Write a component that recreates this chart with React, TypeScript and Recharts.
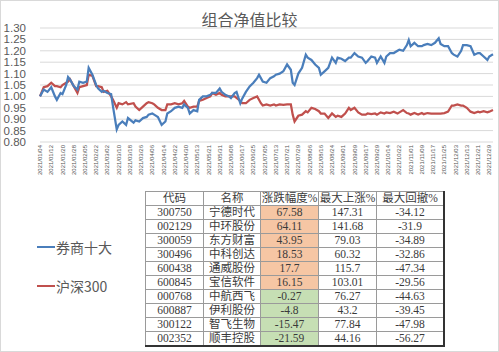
import React from "react";
import { LineChart, Line, XAxis, YAxis, CartesianGrid } from "recharts";

// trading-day index (0 = 2021/01/04), every ~2 days
const days = [
  0, 2, 4, 6, 8, 9, 11, 12, 14, 15,
  16, 18, 20, 21, 23, 25, 26, 28, 30, 31,
  33, 34, 36, 38, 39, 41, 42, 44, 46, 47,
  50, 51, 53, 55, 57, 58, 60, 61, 63, 65,
  67, 68, 70, 72, 74, 76, 77, 79, 80, 82,
  84, 85, 87, 89, 91, 92, 94, 96, 97, 99,
  101, 102, 104, 105, 107, 108, 110, 112, 114, 116,
  117, 118, 119, 121, 123, 125, 126, 128, 130, 132,
  134, 135, 136, 138, 140, 142, 143, 145, 147, 149,
  150, 152, 154, 156, 158, 159, 161, 163, 165, 166,
  168, 170, 172, 174, 175, 177, 179, 180, 182, 184,
  185, 187, 189, 191, 192, 194, 196, 197, 198, 200,
  202, 204, 205, 207, 209, 211, 213, 214, 216, 218,
  220, 221, 223, 225, 226, 228, 230, 232, 234, 235,
  237, 239, 240, 242,
];

// 券商十大
const broker = [
  1.0, 1.03, 1.02, 1.04, 1.0, 0.985, 1.015, 1.01, 1.05, 1.085,
  1.075, 1.045, 1.03, 1.065, 1.06, 1.065, 1.125, 1.095, 1.05, 1.035,
  1.02, 1.025, 1.015, 1.01, 0.955, 0.855, 0.875, 0.89, 0.875, 0.905,
  0.885, 0.895, 0.89, 0.905, 0.91, 0.92, 0.925, 0.92, 0.91, 0.875,
  0.89, 0.925, 0.935, 0.95, 0.955, 0.95, 0.965, 0.95, 0.925, 0.94,
  0.935, 0.985, 1.0, 1.0, 1.007, 1.015, 1.015, 1.035, 1.02, 1.007,
  1.0, 0.993, 1.015, 1.02, 0.97, 0.99, 1.02, 1.044, 1.06, 1.08,
  1.095, 1.08, 1.065, 1.06, 1.08, 1.088, 1.095, 1.1, 1.11, 1.14,
  1.117, 1.06, 1.05, 1.1, 1.125, 1.183, 1.17, 1.16, 1.14, 1.125,
  1.095, 1.11, 1.125, 1.17, 1.147, 1.17, 1.165, 1.155, 1.17, 1.17,
  1.19, 1.175, 1.17, 1.147, 1.155, 1.175, 1.17, 1.147, 1.175, 1.147,
  1.175, 1.19, 1.19, 1.2, 1.205, 1.2, 1.225, 1.247, 1.22, 1.235,
  1.22, 1.22, 1.225, 1.23, 1.225, 1.235, 1.255, 1.23, 1.22, 1.22,
  1.19, 1.183, 1.175, 1.2, 1.225, 1.225, 1.22, 1.183, 1.19, 1.19,
  1.175, 1.16, 1.175, 1.185,
];

// 沪深300
const hs300 = [
  1.0, 1.04, 1.045, 1.06, 1.045, 1.045, 1.04, 1.05, 1.06, 1.065,
  1.075, 1.045, 1.015, 1.04, 1.045, 1.05, 1.095, 1.09, 1.045, 1.045,
  1.04, 1.02, 1.025, 1.0, 0.985, 0.95, 0.97, 0.965, 0.975, 0.965,
  0.97, 0.955, 0.94, 0.955, 0.97, 0.975, 0.97, 0.965, 0.95, 0.94,
  0.94, 0.965, 0.965, 0.97, 0.965, 0.97, 0.98, 0.955, 0.95, 0.955,
  0.955, 0.98, 0.985, 0.993, 1.0, 1.015, 1.007, 1.015, 1.007, 1.0,
  1.0, 1.0, 1.0, 0.993, 0.98, 0.97, 0.97, 0.985, 0.993, 1.0,
  0.985, 0.97, 0.96, 0.965, 0.96, 0.965, 0.96, 0.965, 0.963, 0.965,
  0.965, 0.92, 0.89, 0.915, 0.92, 0.935, 0.93, 0.95, 0.945, 0.935,
  0.925, 0.925, 0.905, 0.925, 0.91, 0.915, 0.91, 0.925, 0.95, 0.94,
  0.95, 0.93, 0.92, 0.92, 0.925, 0.922, 0.925, 0.92, 0.93, 0.925,
  0.93, 0.927, 0.933, 0.925, 0.93, 0.94, 0.927, 0.925, 0.92, 0.927,
  0.92, 0.927, 0.922, 0.927, 0.925, 0.925, 0.925, 0.925, 0.927, 0.933,
  0.96, 0.96, 0.965, 0.96, 0.96, 0.95, 0.933, 0.927, 0.933, 0.93,
  0.935, 0.93, 0.933, 0.94,
];

// x tick labels, one every 6 trading days
const dateLabels = [
  "2021/01/04", "2021/01/12", "2021/01/20", "2021/01/28", "2021/02/05",
  "2021/02/22", "2021/03/02", "2021/03/10", "2021/03/18", "2021/03/26",
  "2021/04/06", "2021/04/14", "2021/04/22", "2021/04/30", "2021/05/13",
  "2021/05/21", "2021/05/31", "2021/06/08", "2021/06/17", "2021/06/25",
  "2021/07/05", "2021/07/13", "2021/07/21", "2021/07/29", "2021/08/06",
  "2021/08/16", "2021/08/24", "2021/09/01", "2021/09/09", "2021/09/17",
  "2021/09/29", "2021/10/14", "2021/10/22", "2021/11/01", "2021/11/09",
  "2021/11/17", "2021/11/25", "2021/12/03", "2021/12/13", "2021/12/21",
  "2021/12/29",
];
const yTicks = [0.8, 0.85, 0.9, 0.95, 1.0, 1.05, 1.1, 1.15, 1.2, 1.25, 1.3];

// table
const headers = ["代码", "名称", "涨跌幅度%", "最大上涨%", "最大回撤%"];
const codes = ["300750", "002129", "300059", "300496", "600438", "600845", "000768", "600887", "300122", "002352"];
const names = ["宁德时代", "中环股份", "东方财富", "中科创达", "通威股份", "宝信软件", "中航西飞", "伊利股份", "智飞生物", "顺丰控股"];
const change = [67.58, 64.11, 43.95, 18.53, 17.7, 16.15, -0.27, -4.8, -15.47, -21.59];
const maxUp = [147.31, 141.68, 79.03, 60.32, 115.7, 103.01, 76.27, 43.2, 77.84, 44.16];
const maxDown = [-34.12, -31.9, -34.89, -32.86, -47.34, -29.56, -44.63, -39.45, -47.98, -56.27];

const BLUE = "#4a7ebb";
const RED = "#c0504d";
const GREY = "#595959";

const data = days.map((d, i) => ({ day: d, broker: broker[i], hs300: hs300[i] }));
const xTicks = dateLabels.map((_, i) => i * 6);

function DateTick(props: any) {
  const { x, y, payload } = props;
  return (
    <text
      x={x}
      y={y}
      transform={`rotate(-90 ${x} ${y})`}
      textAnchor="end"
      dy="0.35em"
      fontSize={6}
      fill="#555"
      fontFamily="Liberation Sans, Arial, sans-serif"
    >
      {dateLabels[payload.value / 6]}
    </text>
  );
}

const cellFont = '"Liberation Serif", "Noto Sans CJK SC", serif';
const colWidths = [57, 56, 57, 57, 66];

export default function App() {
  const cell = (w: number, bg?: string): React.CSSProperties => ({
    width: w,
    height: 13,
    padding: 0,
    border: "1px solid #9a9a9a",
    textAlign: "center",
    background: bg || "#fff",
    lineHeight: "13px",
  });

  return (
    <div
      style={{
        position: "absolute",
        left: 0,
        top: 0,
        width: 497,
        height: 350,
        border: "1px solid #d9d9d9",
        background: "#fff",
        overflow: "hidden",
      }}
    >
      <div
        style={{
          position: "absolute",
          left: 0,
          width: 497,
          top: 6,
          textAlign: "center",
          fontSize: 16,
          color: GREY,
          fontFamily: '"Noto Sans CJK SC", sans-serif',
        }}
      >
        组合净值比较
      </div>

      <div style={{ position: "absolute", left: -1, top: -1 }}>
        <LineChart width={499} height={175} data={data} margin={{ top: 28, right: 6, left: 0, bottom: 0 }}>
          <CartesianGrid vertical={false} stroke="#d9d9d9" strokeWidth={1} />
          <XAxis
            dataKey="day"
            type="number"
            domain={[0, 242]}
            ticks={xTicks}
            interval={0}
            axisLine={false}
            tickLine={false}
            tickSize={0}
            tickMargin={3}
            height={33}
            tick={<DateTick />}
          />
          <YAxis
            domain={[0.8, 1.3]}
            ticks={yTicks}
            interval={0}
            width={40}
            axisLine={false}
            tickLine={false}
            tickSize={0}
            tickMargin={14}
            tickFormatter={(v: number) => v.toFixed(2)}
            tick={{ fill: GREY, fontSize: 11.5, fontFamily: "Liberation Sans, Arial, sans-serif" }}
          />
          <Line type="linear" dataKey="hs300" stroke={RED} strokeWidth={2.25} dot={false} isAnimationActive={false} />
          <Line type="linear" dataKey="broker" stroke={BLUE} strokeWidth={2.25} dot={false} isAnimationActive={false} />
        </LineChart>
      </div>

      {[
        { label: "券商十大", color: BLUE, top: 236 },
        { label: "沪深300", color: RED, top: 275 },
      ].map((l) => (
        <div
          key={l.label}
          style={{
            position: "absolute",
            left: 36,
            top: l.top,
            display: "flex",
            alignItems: "center",
            fontSize: 14,
            color: GREY,
            fontFamily: '"Noto Sans CJK SC", sans-serif',
          }}
        >
          <span style={{ display: "inline-block", width: 18, height: 2.5, background: l.color, marginRight: 1 }} />
          {l.label}
        </div>
      ))}

      <table
        style={{
          position: "absolute",
          left: 144,
          top: 190,
          borderCollapse: "collapse",
          fontFamily: cellFont,
          fontSize: 11.5,
          color: "#3a3a3a",
          borderTop: "1px solid #444",
          borderLeft: "1px solid #444",
          borderRight: "2px solid #333",
          borderBottom: "2px solid #333",
        }}
      >
        <tbody>
          <tr>
            {headers.map((h, i) => (
              <td key={h} style={cell(colWidths[i])}>
                {h}
              </td>
            ))}
          </tr>
          {codes.map((c, r) => (
            <tr key={c}>
              <td style={cell(colWidths[0])}>{c}</td>
              <td style={cell(colWidths[1])}>{names[r]}</td>
              <td style={cell(colWidths[2], change[r] >= 0 ? "#f6c6a4" : "#c6dfb4")}>{change[r]}</td>
              <td style={cell(colWidths[3])}>{maxUp[r]}</td>
              <td style={cell(colWidths[4])}>{maxDown[r]}</td>
            </tr>
          ))}
        </tbody>
      </table>
    </div>
  );
}
